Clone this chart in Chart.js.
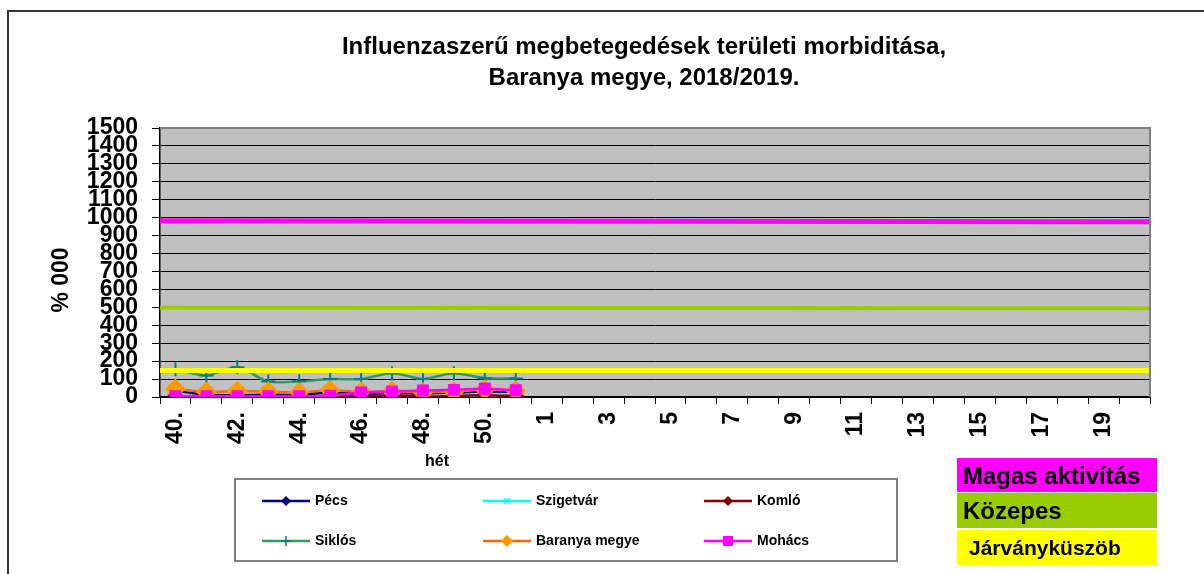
<!DOCTYPE html>
<html>
<head>
<meta charset="utf-8">
<script src="https://cdn.jsdelivr.net/npm/chart.js@4/dist/chart.umd.min.js"></script>
<style>
  html, body { margin: 0; padding: 0; background: #fff; }
  #wrap { position: relative; width: 1204px; height: 574px; }
</style>
</head>
<body>
<div id="wrap"><canvas id="chart" width="1204" height="574"></canvas></div>
<script>
// Week categories (season 2018/2019)
const weeks = ["40.", "41.", "42.", "43.", "44.", "45.", "46.", "47.", "48.", "49.", "50.", "51.",
  "1", "2", "3", "4", "5", "6", "7", "8", "9", "10", "11", "12", "13", "14", "15", "16", "17", "18", "19", "20"];

// Morbidity per 100 000, weeks 40-51
const pecs      = [35, 12, 10, 12, 12, 25, 18, 22, 20, 25, 30, 28];
const szigetvar = [2, 0, 0, 5, 0, 0, 0, 0, 0, 0, 5, 5];
const komlo     = [5, 2, 2, 2, 3, 5, 3, 8, 2, 6, 10, 5];
const siklos    = [155, 120, 166, 86, 88, 100, 100, 133, 101, 133, 105, 103];
const baranya   = [45, 28, 33, 30, 26, 38, 30, 32, 26, 30, 42, 35];
const mohacs    = [5, 4, 4, 4, 4, 7, 25, 30, 36, 40, 46, 38];

// Threshold lines (start / end of season)
const thresholdSpan = [0, 1];
const highActivity  = [983, 977];
const medium        = [497, 495];
const epidemic      = [148, 148];

const FONT = "'Liberation Sans', Arial, sans-serif";

const series = [
  { label: "Pécs", data: pecs, color: "#000080", marker: "rectRot", markerColor: "#000080", r: 5, lr: 4, order: 6 },
  { label: "Szigetvár", data: szigetvar, color: "#00FFFF", marker: "crossRot", markerColor: "#00FFFF", r: 5, lr: 4, order: 7 },
  { label: "Komló", data: komlo, color: "#800000", marker: "rectRot", markerColor: "#800000", r: 7, lr: 4, order: 5 },
  { label: "Siklós", data: siklos, color: "#339966", marker: "cross", markerColor: "#008080", r: 7, lr: 5, order: 8 },
  { label: "Baranya megye", data: baranya, color: "#FF6600", marker: "rectRot", markerColor: "#FF9900", r: 9, lr: 5, order: 4 },
  { label: "Mohács", data: mohacs, color: "#FF00FF", marker: "rect", markerColor: "#FF00FF", r: 7, lr: 6, order: 3 }
];

const toSpan = vals => thresholdSpan.map((x, i) => ({ x: x, y: vals[i] }));

const datasets = series.map(s => ({
  label: s.label,
  data: s.data,
  xAxisID: "x",
  borderColor: s.color,
  backgroundColor: s.color,
  borderWidth: 2.5,
  tension: 0.3,
  pointStyle: s.marker,
  pointRadius: s.r,
  pointBackgroundColor: s.markerColor,
  pointBorderColor: s.markerColor,
  pointBorderWidth: 2,
  order: s.order
}));

[
  { data: highActivity, color: "#FF00FF", width: 5, order: 1 },
  { data: medium, color: "#99CC00", width: 4, order: 2 },
  { data: epidemic, color: "#FFFF00", width: 5, order: 0 }
].forEach(t => datasets.push({
  data: toSpan(t.data),
  xAxisID: "xt",
  borderColor: t.color,
  borderWidth: t.width,
  pointRadius: 0,
  order: t.order
}));

// Frame, grey plot background, titles, legend and activity boxes
const decorations = {
  id: "decorations",
  beforeDraw(chart) {
    const { ctx, chartArea: a } = chart;
    ctx.save();
    ctx.fillStyle = "#fff";
    ctx.fillRect(0, 0, chart.width, chart.height);
    ctx.strokeStyle = "#333";
    ctx.lineWidth = 2;
    ctx.strokeRect(8, 11, 1400, 800);
    ctx.fillStyle = "#C0C0C0";
    ctx.fillRect(a.left, a.top, a.right - a.left, a.bottom - a.top);
    ctx.restore();
  },
  afterDraw(chart) {
    const { ctx, chartArea: a } = chart;
    ctx.save();
    // plot border (top / right)
    ctx.strokeStyle = "#808080";
    ctx.lineWidth = 2;
    ctx.beginPath();
    ctx.moveTo(a.left, a.top);
    ctx.lineTo(a.right, a.top);
    ctx.lineTo(a.right, a.bottom);
    ctx.stroke();

    // title
    ctx.fillStyle = "#000";
    ctx.textAlign = "center";
    ctx.textBaseline = "middle";
    ctx.font = "bold 24px " + FONT;
    ctx.fillText("Influenzaszerű megbetegedések területi morbiditása,", 644, 47);
    ctx.fillText("Baranya megye, 2018/2019.", 644, 78);

    // axis titles
    ctx.font = "bold 16px " + FONT;
    ctx.fillText("hét", 437, 462);
    ctx.save();
    ctx.translate(62, 280);
    ctx.rotate(-Math.PI / 2);
    ctx.font = "bold 23px " + FONT;
    ctx.fillText("% 000", 0, 0);
    ctx.restore();

    // legend
    ctx.strokeStyle = "#808080";
    ctx.lineWidth = 2;
    ctx.strokeRect(235, 479, 662, 82);
    const colX = [262, 483, 704];
    const rowY = [501, 541];
    ctx.textAlign = "left";
    ctx.font = "bold 14px " + FONT;
    series.forEach((s, i) => {
      const x0 = colX[i % 3], y0 = rowY[Math.floor(i / 3)];
      ctx.strokeStyle = s.color;
      ctx.lineWidth = 2.5;
      ctx.beginPath();
      ctx.moveTo(x0, y0);
      ctx.lineTo(x0 + 48, y0);
      ctx.stroke();
      ctx.fillStyle = s.markerColor;
      ctx.strokeStyle = s.markerColor;
      ctx.lineWidth = 1.5;
      Chart.helpers.drawPoint(ctx, { pointStyle: s.marker, radius: s.lr, rotation: 0, borderWidth: 1.5 }, x0 + 24, y0);
      ctx.fillStyle = "#000";
      ctx.fillText(s.label, x0 + 53, y0);
    });

    // activity level boxes
    const boxes = [
      { text: "Magas aktivítás", color: "#FF00FF", y: 458, h: 34, tx: 963, size: 24 },
      { text: "Közepes", color: "#99CC00", y: 493, h: 35, tx: 963, size: 24 },
      { text: "Járványküszöb", color: "#FFFF00", y: 530, h: 35, tx: 969, size: 21 }
    ];
    boxes.forEach(b => {
      ctx.fillStyle = b.color;
      ctx.fillRect(957, b.y, 200, b.h);
      ctx.fillStyle = "#000";
      ctx.font = "bold " + b.size + "px " + FONT;
      ctx.fillText(b.text, b.tx, b.y + b.h / 2 + 2);
    });
    ctx.restore();
  }
};

new Chart(document.getElementById("chart"), {
  type: "line",
  data: { labels: weeks, datasets: datasets },
  options: {
    responsive: false,
    animation: false,
    layout: { padding: { top: 128, right: 54, left: 0, bottom: 0 } },
    plugins: {
      legend: { display: false },
      title: { display: false },
      tooltip: { enabled: false }
    },
    scales: {
      x: {
        type: "category",
        offset: true,
        afterFit: s => { s.height = 177; },
        border: { color: "#000", width: 1.5 },
        grid: { display: true, drawOnChartArea: false, offset: true, color: "#000", tickLength: 7 },
        ticks: {
          autoSkip: false,
          minRotation: 90,
          maxRotation: 90,
          padding: 8,
          color: "#000",
          font: { family: FONT, size: 23, weight: "bold" },
          callback: (v, i) => (i % 2 === 0 ? weeks[i] : "")
        }
      },
      xt: { type: "linear", min: 0, max: 1, display: false },
      y: {
        min: 0,
        max: 1500,
        afterFit: s => { s.width = 160; },
        border: { color: "#000", width: 1.5 },
        grid: { color: "#000", lineWidth: 1, tickLength: 8 },
        ticks: {
          stepSize: 100,
          autoSkip: false,
          padding: 14,
          color: "#000",
          font: { family: FONT, size: 23, weight: "bold" },
          callback: v => String(v)
        }
      }
    }
  },
  plugins: [decorations]
});
</script>
</body>
</html>
